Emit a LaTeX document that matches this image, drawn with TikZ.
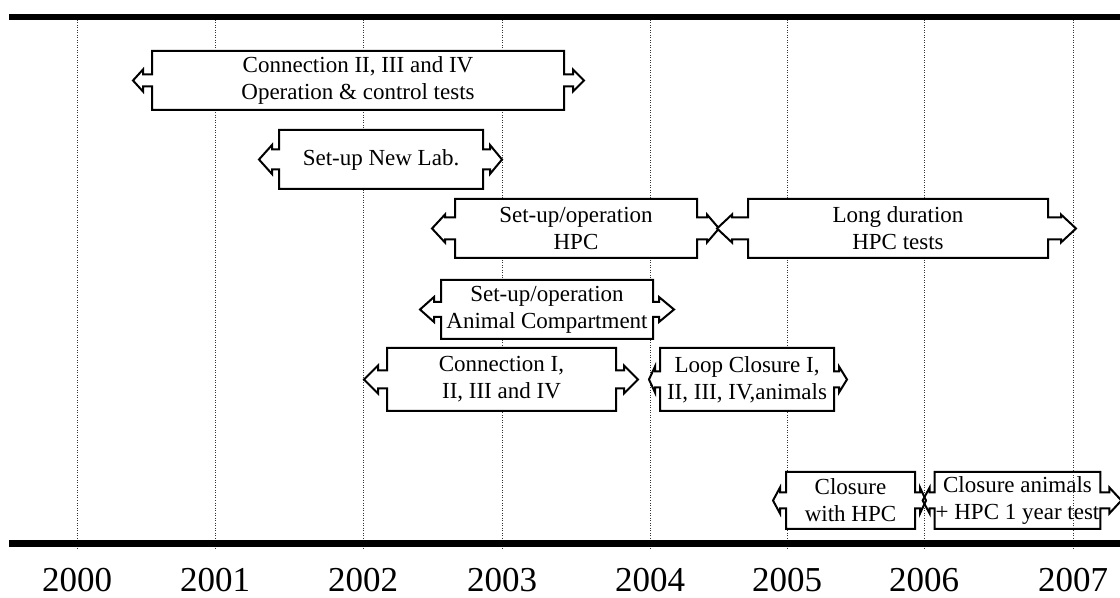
\documentclass[tikz,border=0pt]{standalone}
\usepackage{fontspec}
\setmainfont{Liberation Serif}
\usetikzlibrary{calc}

% outline of a box with an arrow on each side: node, shaft half, head half,
% left shaft, left head, right shaft, right head
\newcommand\sidearrows[7]{%
  (#1.north west) -- ($(#1.west)+(0,-#2)$) -- ++(-#4,0) -- ++(0,{#2-#3})
  -- ++(-#5,#3) -- ++(#5,#3) -- ++(0,{#2-#3}) -- ++(#4,0)
  -- (#1.south west) -- (#1.south east)
  -- ($(#1.east)+(0,#2)$) -- ++(#6,0) -- ++(0,{#3-#2})
  -- ++(#7,-#3) -- ++(-#7,-#3) -- ++(0,{#3-#2}) -- ++(-#6,0)
  -- (#1.north east) -- cycle}

\begin{document}
\begin{tikzpicture}[
  x=0.5pt, y=-0.5pt,
  bar/.style={line width=3.25pt},
  yearline/.style={black!80, line width=0.5pt, dash pattern=on 0.5pt off 0.75pt},
  box/.style={draw, line width=1pt, fill=white},
  lbl/.style={inner sep=0pt, align=center, font=\fontsize{11.5}{13.6}\selectfont},
  body/.style 2 args={minimum width=#1*0.5pt, minimum height=#2*0.5pt},
  year/.style={anchor=base, font=\fontsize{17.5}{20}\selectfont},
]
  \useasboundingbox (0,0) rectangle (1120,598);

  \foreach \yr/\xx in {2000/77, 2001/215, 2002/363, 2003/502, 2004/650, 2005/787, 2006/924, 2007/1073} {
    \coordinate (g\yr) at (\xx,20);
    \coordinate (h\yr) at (\xx,550);
    \draw[yearline] (g\yr) -- (h\yr);
    \node[year] (y\yr) at (\xx,592) {\yr};
  }

  \coordinate (topL) at (9,17);
  \coordinate (topR) at (1120,17);
  \coordinate (botL) at (9,543.5);
  \coordinate (botR) at (1120,543.5);
  \draw[bar] (topL) -- (topR);
  \draw[bar] (botL) -- (botR);

  \draw[box] node[lbl, body={410}{57}] (conn2) at (358,80.5) {Connection II, III and IV\\Operation \& control tests}
    \sidearrows{conn2}{6}{11}{9}{10}{9}{11};
  \draw[box] node[lbl, body={202}{57}] (newlab) at (381,159.5) {Set-up New Lab.}
    \sidearrows{newlab}{10}{14.5}{7}{13}{7}{12};
  \draw[box] node[lbl, body={240}{57}] (hpc) at (576,228.5) {Set-up/operation\\HPC}
    \sidearrows{hpc}{11}{14}{10}{13}{10}{12};
  \draw[box] node[lbl, body={298}{57}] (longrun) at (898,228.5) {Long duration\\HPC tests}
    \sidearrows{longrun}{11}{14}{16}{15}{13}{15};
  \draw[box] node[lbl, body={210}{57}] (animal) at (547,309.5) {Set-up/operation\\Animal Compartment}
    \sidearrows{animal}{7.5}{12.5}{7}{14}{6}{15};
  \draw[box] node[lbl, body={227}{61}] (conn1) at (501.5,379.5) {Connection I,\\II, III and IV}
    \sidearrows{conn1}{9}{14}{9}{14}{8}{14};
  \draw[box] node[lbl, body={172}{61}] (loop) at (747,379.5) {Loop Closure I,\\II, III, IV,animals}
    \sidearrows{loop}{8}{13}{5}{6}{5}{8};
  \draw[box] node[lbl, body={127}{55}] (closehpc) at (850.5,500.5) {Closure\\with HPC}
    \sidearrows{closehpc}{8}{13}{6}{7}{5}{6};
  \draw[box, fill=none] node[lbl, body={161}{55}] (closeanim) at (1017.5,500.5) {Closure animals\\+ HPC 1 year test}
    \sidearrows{closeanim}{8}{13}{5}{7}{9}{12};
\end{tikzpicture}
\end{document}
